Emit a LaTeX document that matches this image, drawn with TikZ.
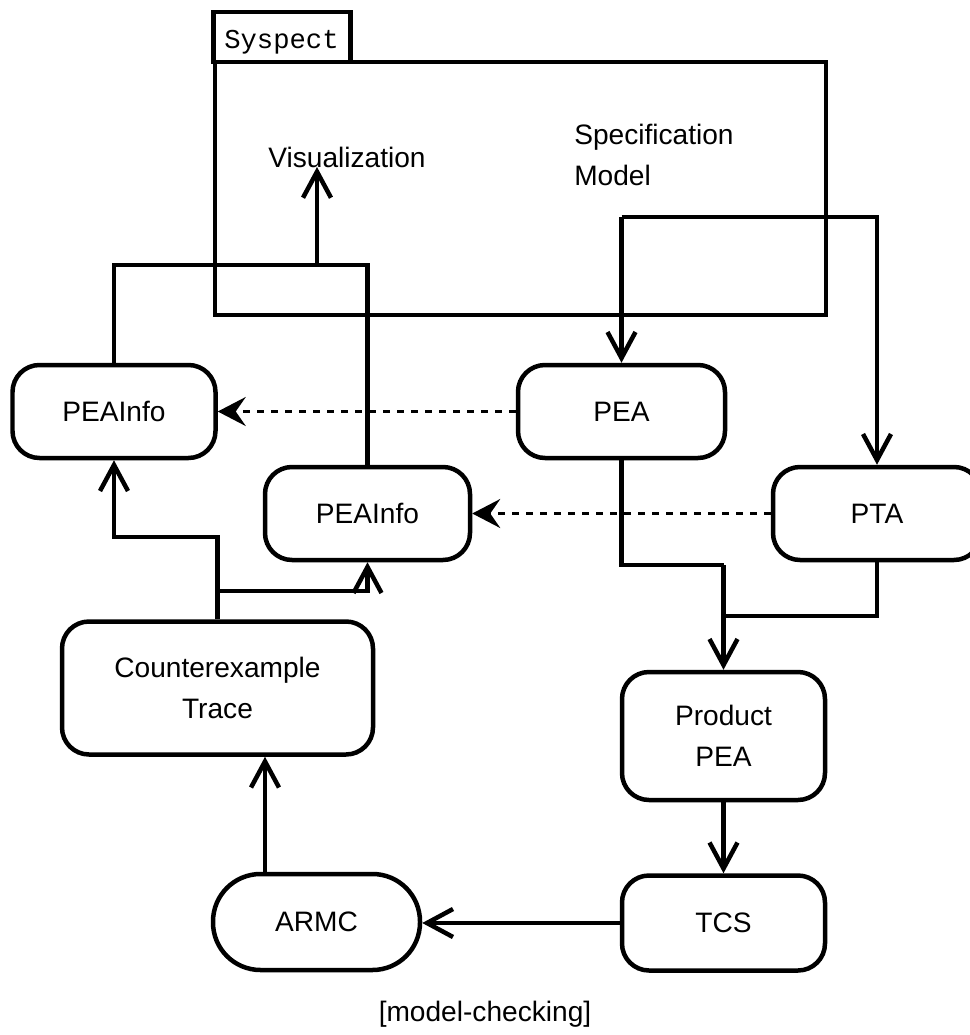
\documentclass[tikz,border=0pt]{standalone}
\usepackage{fontspec}
\setmainfont{Liberation Sans}
\newfontfamily\monof{Liberation Mono}
\usetikzlibrary{arrows.meta}
\newcommand{\pxu}{0.02cm}
\begin{document}
\begin{tikzpicture}[x=0.02cm,y=-0.02cm,
  line width=0.09cm,
  font=\fontsize{16}{23.5}\selectfont,
  box/.style={draw, rounded corners=0.54cm, align=center, inner sep=0pt},
  arr/.style={-{Straight Barb[length=0.52cm,width=0.56cm]}},
  darr/.style={line width=0.055cm, dash pattern=on 0.14cm off 0.14cm, -{Stealth[length=0.56cm,width=0.58cm,inset=0.2cm]}},
  lbl/.style={inner sep=0pt, align=left}]
\useasboundingbox (0,0) rectangle (970,1035);
% Syspect package frame
\node[draw, inner sep=0pt, minimum width=137*\pxu, minimum height=50*\pxu] (tab) at (282,37) {};
\node[anchor=base west, inner sep=0pt, font=\monof\fontsize{15.5}{18}\selectfont] (tabtxt) at (222,48) {Syspect};
\node[draw, inner sep=0pt, minimum width=611*\pxu, minimum height=253*\pxu] (syspect) at (520.5,188.5) {};
\node[inner sep=0pt] (vis) at (347,157) {Visualization};
\node[lbl, anchor=north west] (spec) at (572,122) {Specification\\Model};
% boxes
\node[box, minimum width=203*\pxu, minimum height=93*\pxu] (infoA) at (114,411.5) {PEAInfo};
\node[box, minimum width=207*\pxu, minimum height=93*\pxu] (pea) at (621.5,411.5) {PEA};
\node[box, minimum width=205*\pxu, minimum height=93*\pxu] (infoB) at (367.5,513.5) {PEAInfo};
\node[box, minimum width=208*\pxu, minimum height=93*\pxu] (pta) at (877,513.5) {PTA};
\node[box, minimum width=311*\pxu, minimum height=133*\pxu] (cex) at (217.5,688) {Counterexample\\Trace};
\node[box, minimum width=203*\pxu, minimum height=128*\pxu] (prod) at (723.5,736) {Product\\PEA};
\node[box, minimum width=203*\pxu, minimum height=95*\pxu] (tcs) at (723.5,923) {TCS};
\node[box, rounded corners=0.95cm, minimum width=207*\pxu, minimum height=96*\pxu] (armc) at (316.5,922) {ARMC};
\node[inner sep=0pt] (caption) at (485,1014) {[model-checking]};
% junction coordinates
\coordinate (vj) at (317,265);
\coordinate (vtip) at (317,167);
\coordinate (sj) at (621.5,217);
\coordinate (m1) at (723.5,565);
\coordinate (m2) at (723.5,616);
\coordinate (c1) at (217.5,591);
\coordinate (c2) at (217.5,537);
\coordinate (a1) at (265,874);
% connectors
\draw (infoA.north) |- (infoB.north |- vj) -- (infoB.north);
\draw[arr] (vj) -- (vtip);
\draw[arr] (sj) -- (pea.north);
\draw[arr] (sj) -| (pta.north);
\draw[darr] (pea.west) -- (infoA.east);
\draw[darr] (pta.west) -- (infoB.east);
\draw (pea.south) |- (m1);
\draw (pta.south) |- (m2);
\draw[arr] (m1) -- (prod.north);
\draw[arr] (prod.south) -- (tcs.north);
\draw[arr] (tcs.west) -- (armc.east |- tcs.west);
\draw[arr] (a1) -- (a1 |- cex.south);
\draw (cex.north) -- (c1);
\draw[arr] (c1) -| (infoB.south);
\draw[arr] (c1) |- (c2) -| (infoA.south);
\end{tikzpicture}
\end{document}
